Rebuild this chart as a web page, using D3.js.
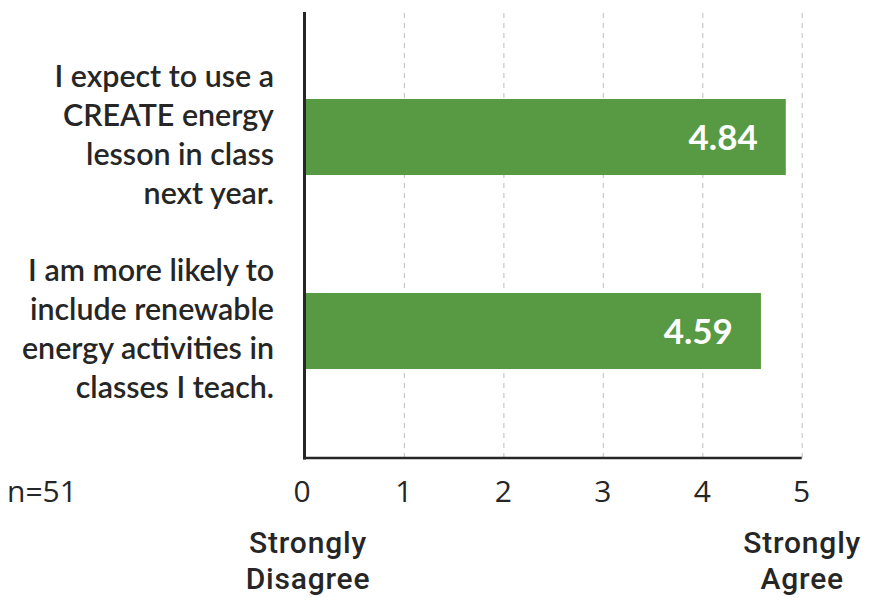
<!DOCTYPE html>
<html>
<head>
<meta charset="utf-8">
<script src="https://cdn.jsdelivr.net/npm/d3@7"></script>
<style>
  html, body { margin: 0; padding: 0; background: #fff; }
  svg { display: block; }
</style>
</head>
<body>
<svg id="chart" width="878" height="598"></svg>
<script>
// Survey statements (each split into the lines shown on the left)
const statements = [
  ["I expect to use a", "CREATE energy", "lesson in class", "next year."],
  ["I am more likely to", "include renewable", "energy activities in", "classes I teach."]
];
const statementIds = ["use_lesson", "renewable_activities"];
// Mean agreement score per statement
const meanScores = [4.84, 4.59];
// Scale ticks and end-point anchors
const tickValues = [0, 1, 2, 3, 4, 5];
const scaleEnds = [
  { value: 0, lines: ["Strongly", "Disagree"], nudge: 3.5 },
  { value: 5, lines: ["Strongly", "Agree"], nudge: 0.5 }
];
const sampleNote = "n=51";

const svg = d3.select("#chart");
const plot = { left: 304.5, right: 801.7, top: 12, bottom: 458 };
const textColor = "#262626";
const barColor = "#589A44";

const x = d3.scaleLinear().domain([0, 5]).range([plot.left, plot.right]);
const y = d3.scaleBand().domain(statementIds).range([40, 428]).padding(0);
const barH = y.bandwidth() * 0.392;

// dashed vertical gridlines
const grid = svg.append("g")
  .attr("transform", `translate(0,${plot.bottom})`)
  .call(d3.axisBottom(x).tickValues(tickValues.filter(d => d > 0))
    .tickSize(-(plot.bottom - plot.top)).tickFormat(""));
grid.select(".domain").remove();
grid.selectAll(".tick line")
  .attr("stroke", "#c8c8c8")
  .attr("stroke-width", 1.2)
  .attr("stroke-dasharray", "5,5");

// bars
svg.append("g").selectAll("rect")
  .data(meanScores)
  .join("rect")
  .attr("x", x(0))
  .attr("y", (d, i) => y(statementIds[i]) + (y.bandwidth() - barH) / 2)
  .attr("width", d => x(d) - x(0))
  .attr("height", barH)
  .attr("fill", barColor);

// value labels inside bars
svg.append("g").selectAll("text")
  .data(meanScores)
  .join("text")
  .attr("x", d => x(d) - 28)
  .attr("y", (d, i) => y(statementIds[i]) + y.bandwidth() / 2)
  .attr("dy", "0.36em")
  .attr("text-anchor", "end")
  .attr("fill", "#fff")
  .style("font-family", "Lato, sans-serif")
  .style("font-weight", 700)
  .style("font-size", "35px")
  .text(d => d.toFixed(2));

// axis lines
const axisG = svg.append("g");
axisG.append("line")
  .attr("x1", x(0)).attr("x2", x(0))
  .attr("y1", plot.top).attr("y2", plot.bottom + 1.5)
  .attr("stroke", "#262626").attr("stroke-width", 3);
axisG.append("line")
  .attr("x1", x(0) - 1.5).attr("x2", x(5))
  .attr("y1", plot.bottom).attr("y2", plot.bottom)
  .attr("stroke", "#262626").attr("stroke-width", 2.5);

// tick labels
const tickFont = "'Open Sans', sans-serif";
svg.append("g").selectAll("text")
  .data(tickValues)
  .join("text")
  .attr("x", d => x(d) + (d === 0 ? -2.5 : 0))
  .attr("y", 502)
  .attr("text-anchor", "middle")
  .attr("fill", textColor)
  .style("font-family", tickFont)
  .style("font-weight", 400)
  .style("font-size", "30px")
  .text(d => d);

svg.append("text")
  .attr("x", 7)
  .attr("y", 502)
  .attr("fill", textColor)
  .style("font-family", tickFont)
  .style("font-weight", 400)
  .style("font-size", "30px")
  .text(sampleNote);

// scale end descriptors, one text per line
scaleEnds.forEach(e => {
  e.lines.forEach((ln, k) => {
    svg.append("text")
      .attr("x", x(e.value) + e.nudge)
      .attr("y", 553 + k * 36)
      .attr("text-anchor", "middle")
      .attr("fill", textColor)
      .style("font-family", "Roboto, sans-serif")
      .style("font-weight", 500)
      .style("font-size", "30px")
      .style("letter-spacing", "0.8px")
      .text(ln);
  });
});

// statement labels on the left
statements.forEach((lines, i) => {
  const cy = y(statementIds[i]) + y.bandwidth() / 2;
  const lh = 39;
  const t = svg.append("text")
    .attr("text-anchor", "end")
    .attr("fill", textColor)
    .style("font-family", "Lato, sans-serif")
    .style("font-weight", 600)
    .style("font-size", "30.4px");
  lines.forEach((ln, k) => {
    t.append("tspan")
      .attr("x", 274)
      .attr("y", cy + (k - (lines.length - 1) / 2) * lh + 8.5)
      .text(ln);
  });
});
</script>
</body>
</html>
